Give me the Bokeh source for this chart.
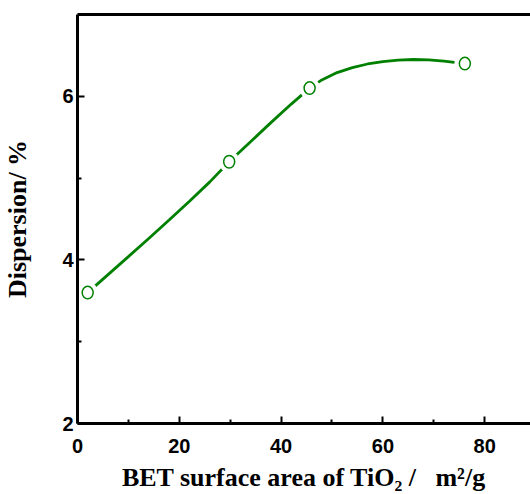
from bokeh.plotting import figure
from bokeh.models import Range1d, FixedTicker, LinearAxis
from bokeh.embed import file_html
from bokeh.resources import INLINE

# measured points
bet_area = [2.0, 29.8, 45.6, 76.1]
dispersion = [3.60, 5.20, 6.10, 6.40]

# smooth trend curve
curve_x = [2.0, 6.0, 10.0, 14.0, 18.0, 22.0, 26.0, 29.8, 34.0, 38.0, 42.0, 45.6,
           48.0, 51.0, 54.0, 57.0, 60.0, 63.0, 66.0, 69.0, 72.0, 76.1]
curve_y = [3.600, 3.820, 4.040, 4.262, 4.487, 4.717, 4.954, 5.200, 5.444, 5.678, 5.905, 6.100,
           6.200, 6.290, 6.350, 6.395, 6.425, 6.443, 6.450, 6.445, 6.430, 6.400]

x_major = [0, 20, 40, 60, 80]
x_minor = [10, 30, 50, 70]
y_major = [2, 4, 6]
y_minor = [3, 5]

GREEN = "#008000"

p = figure(width=530, height=494, output_backend="svg", toolbar_location=None,
           x_range=Range1d(0, 89), y_range=Range1d(2, 7),
           min_border_left=76, min_border_top=14, min_border_right=0, min_border_bottom=71)
p.grid.visible = False
p.outline_line_color = None
p.background_fill_color = "white"
p.border_fill_color = "white"

p.line(curve_x, curve_y, line_color=GREEN, line_width=2.8)
p.scatter(bet_area, dispersion, size=21, fill_color="white", line_color=None)
p.ellipse(x=bet_area, y=dispersion, width=11, height=12.5, width_units="screen",
          height_units="screen", fill_color="white", line_color=GREEN, line_width=1.5)

for ax, maj, mnr in ((p.xaxis[0], x_major, x_minor), (p.yaxis[0], y_major, y_minor)):
    ax.ticker = FixedTicker(ticks=maj, minor_ticks=mnr)
    ax.axis_line_width = 3
    ax.major_tick_in = 7
    ax.major_tick_out = 0
    ax.minor_tick_in = 4
    ax.minor_tick_out = 0
    ax.major_tick_line_width = 2
    ax.minor_tick_line_width = 2
    ax.major_label_text_font = "Liberation Sans"
    ax.major_label_text_font_style = "bold"
    ax.major_label_text_font_size = "20px"
    ax.major_label_text_color = "black"
    ax.axis_label_text_font = "Liberation Serif"
    ax.axis_label_text_font_style = "bold"
    ax.axis_label_text_font_size = "26px"
    ax.axis_label_text_color = "black"

p.xaxis.axis_label = "BET surface area of TiO\u2082 /\u00a0\u00a0\u00a0m\u00b2/g"
p.yaxis.axis_label = "Dispersion/ %"
p.xaxis.major_label_standoff = 15
p.xaxis.axis_label_standoff = 7
p.yaxis.major_label_standoff = 4
p.yaxis.axis_label_standoff = 27

top = LinearAxis(ticker=FixedTicker(ticks=[]), axis_line_width=3,
                 major_tick_line_color=None, minor_tick_line_color=None,
                 major_label_text_font_size="0px")
p.add_layout(top, "above")

open("out.html", "w").write(file_html(p, INLINE))
